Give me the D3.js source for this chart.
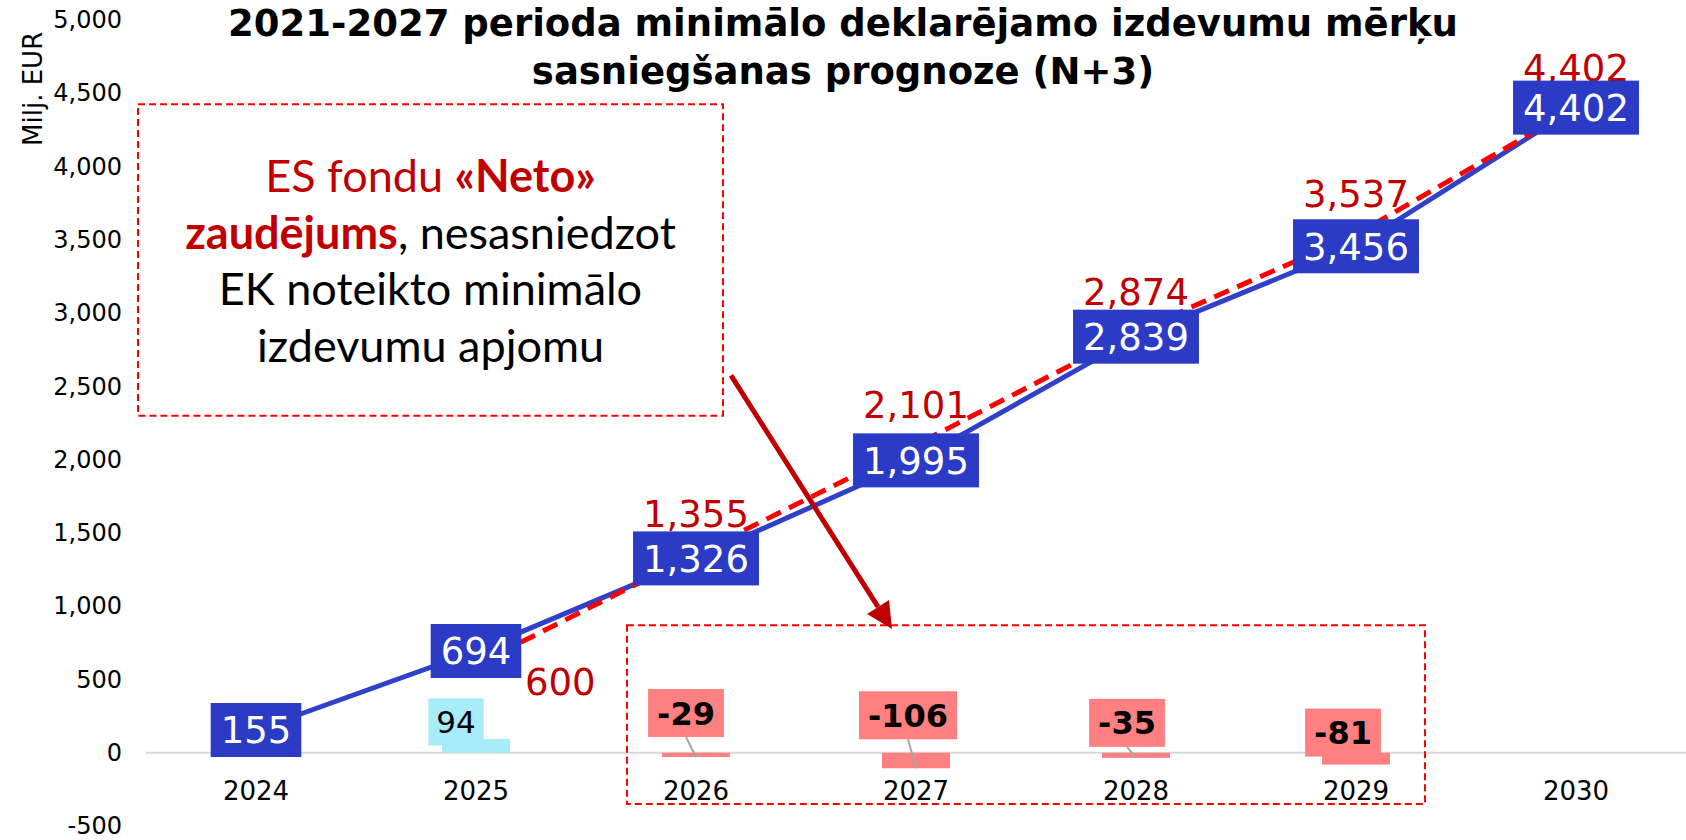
<!DOCTYPE html>
<html>
<head>
<meta charset="utf-8">
<script src="https://cdn.jsdelivr.net/npm/d3@7"></script>
<style>
  body { margin: 0; background: #fff; }
  svg { display: block; }
</style>
</head>
<body>
<div id="chart"></div>
<script>
// values (Milj. EUR)
const years = ['2024', '2025', '2026', '2027', '2028', '2029', '2030'];
const declared = [155, 694, 1326, 1995, 2839, 3456, 4402];      // blue line
const minTarget = [null, 600, 1355, 2101, 2874, 3537, 4402];    // red dashed line
const netDiff = [null, 94, -29, -106, -35, -81, null];          // bars
const yTicks = [-500, 0, 500, 1000, 1500, 2000, 2500, 3000, 3500, 4000, 4500, 5000];
const titleLines = ['2021-2027 perioda minimālo deklarējamo izdevumu mērķu', 'sasniegšanas prognoze (N+3)'];
const yTitle = 'Milj. EUR';

// manual label nudges (px) for the bar labels, like the dragged labels in the original
const barLabelNudge = [null, [-20, -17], [-10, -44], [-8, -53], [-9, -35], [-13, -32], null];

const width = 1686, height = 840;
const margin = { left: 146, right: 0, top: 20, bottom: 14 };
const blue = '#2B3BC6', blueLine = '#3040C8', red = '#FF0000', darkRed = '#C00000';
const font = "'DejaVu Sans', Verdana, sans-serif";

const svg = d3.select('#chart').append('svg')
    .attr('width', width)
    .attr('height', height)
    .style('background', '#fff');

const x = d3.scaleBand()
    .domain(years)
    .range([margin.left, width - margin.right])
    .padding(0);
const cx = d => x(d) + x.bandwidth() / 2;

const y = d3.scaleLinear()
    .domain([-500, 5000])
    .range([height - margin.bottom, margin.top]);

const fmt = v => d3.format(',')(v).replace('\u2212', '-');

// y axis (labels only)
const yAxis = svg.append('g')
    .attr('transform', `translate(${margin.left},0)`)
    .call(d3.axisLeft(y).tickValues(yTicks).tickSize(0).tickPadding(24).tickFormat(fmt));
yAxis.select('.domain').remove();
yAxis.selectAll('text')
    .style('font-family', font)
    .style('font-size', '24px')
    .attr('fill', '#000');

svg.append('text')
    .attr('transform', `translate(42,${y(4530)}) rotate(-90)`)
    .attr('text-anchor', 'middle')
    .style('font-family', font)
    .style('font-size', '26px')
    .text(yTitle);

// zero line
svg.append('line')
    .attr('x1', margin.left).attr('x2', width - margin.right)
    .attr('y1', y(0)).attr('y2', y(0))
    .attr('stroke', '#D9D9D9')
    .attr('stroke-width', 2);

// x axis labels
const xAxis = svg.append('g')
    .attr('transform', `translate(0,${y(0)})`)
    .call(d3.axisBottom(x).tickSize(0).tickPadding(29));
xAxis.select('.domain').remove();
xAxis.selectAll('text')
    .style('font-family', font)
    .style('font-size', '26px')
    .attr('fill', '#000');

// bars
const barW = 68;
const barData = years.map((yr, i) => ({ yr, v: netDiff[i], nudge: barLabelNudge[i] }))
    .filter(d => d.v !== null);

svg.append('g').selectAll('rect')
    .data(barData)
    .join('rect')
    .attr('x', d => cx(d.yr) - barW / 2)
    .attr('width', barW)
    .attr('y', d => y(Math.max(0, d.v)))
    .attr('height', d => Math.abs(y(d.v) - y(0)))
    .attr('fill', d => d.v >= 0 ? '#A8ECF9' : '#FF8080');

// lines
const line = d3.line()
    .defined(d => d.v !== null)
    .x(d => cx(d.yr))
    .y(d => y(d.v));

const blueData = years.map((yr, i) => ({ yr, v: declared[i] }));
const redData = years.map((yr, i) => ({ yr, v: minTarget[i] }));

svg.append('path')
    .datum(blueData)
    .attr('fill', 'none')
    .attr('stroke', blueLine)
    .attr('stroke-width', 5)
    .attr('d', line);

svg.append('path')
    .datum(redData)
    .attr('fill', 'none')
    .attr('stroke', red)
    .attr('stroke-width', 5)
    .attr('stroke-dasharray', '16,9')
    .attr('d', line);

// red labels (above, the first one to the right)
svg.append('g').selectAll('text')
    .data(redData.filter(d => d.v !== null))
    .join('text')
    .attr('x', (d, i) => i === 0 ? cx(d.yr) + 49 : cx(d.yr))
    .attr('y', (d, i) => i === 0 ? y(d.v) + 30 : y(d.v) - 27)
    .attr('text-anchor', (d, i) => i === 0 ? 'start' : 'middle')
    .attr('fill', darkRed)
    .style('font-family', font)
    .style('font-size', '37px')
    .text(d => fmt(d.v));

// blue labels (boxes centred on the points)
const blueLabels = svg.append('g').selectAll('g')
    .data(blueData)
    .join('g')
    .attr('transform', d => `translate(${cx(d.yr)},${y(d.v)})`);

blueLabels.append('text')
    .attr('text-anchor', 'middle')
    .attr('dy', '0.36em')
    .attr('fill', '#fff')
    .style('font-family', font)
    .style('font-size', '37px')
    .text(d => fmt(d.v))
    .each(function () {
        const w = this.getComputedTextLength() + 20;
        d3.select(this.parentNode).insert('rect', 'text')
            .attr('x', -w / 2).attr('y', -27)
            .attr('width', w).attr('height', 54)
            .attr('fill', blue);
    });

// bar labels with leader lines
const barLabels = svg.append('g').selectAll('g')
    .data(barData)
    .join('g')
    .attr('transform', d => `translate(${cx(d.yr) + d.nudge[0]},${y(d.v) + d.nudge[1]})`);

barLabels.each(function (d) {
    const g = d3.select(this);
    const txt = g.append('text')
        .attr('text-anchor', 'middle')
        .attr('dy', '0.36em')
        .attr('fill', '#000')
        .style('font-family', font)
        .style('font-size', d.v < 0 ? '32px' : '31px')
        .style('font-weight', d.v < 0 ? 'bold' : 'normal')
        .text(fmt(d.v));
    const w = txt.node().getComputedTextLength() + (d.v < 0 ? 18 : 16);
    const h = d.v < 0 ? 48 : 47;
    g.insert('rect', 'text')
        .attr('x', -w / 2).attr('y', -h / 2)
        .attr('width', w).attr('height', h)
        .attr('fill', d.v < 0 ? '#FF8080' : '#A8ECF9');
    // leader to the bar end only if the box sits clear of the bar
    const boxBottom = y(d.v) + d.nudge[1] + h / 2;
    if (boxBottom < Math.min(y(0), y(d.v)) - 3) {
        svg.append('line')
            .attr('x1', cx(d.yr) + d.nudge[0]).attr('y1', boxBottom)
            .attr('x2', cx(d.yr)).attr('y2', y(d.v))
            .attr('stroke', '#A6A6A6')
            .attr('stroke-width', 2);
    }
});

// title
svg.append('g').selectAll('text')
    .data(titleLines)
    .join('text')
    .attr('x', width / 2)
    .attr('y', (d, i) => 36 + i * 48)
    .attr('text-anchor', 'middle')
    .style('font-family', font)
    .style('font-size', '37px')
    .style('font-weight', 'bold')
    .text(d => d);

// annotation: dashed boxes, text and arrow
const noteBox = { x0: x('2024') - 8, x1: x('2026') + 137, y0: y(4425), y1: y(2300) };
const lossBox = { x0: x('2026') + 41, x1: x('2029') + x.bandwidth() - 41, y0: y(870), y1: y(-350) };

[noteBox, lossBox].forEach(b => {
    svg.append('rect')
        .attr('x', b.x0).attr('y', b.y0)
        .attr('width', b.x1 - b.x0).attr('height', b.y1 - b.y0)
        .attr('fill', 'none')
        .attr('stroke', red)
        .attr('stroke-width', 2)
        .attr('stroke-dasharray', '7,4');
});

const noteLines = [
    [{ t: 'ES fondu ', c: darkRed }, { t: '«Neto»', c: darkRed, b: true }],
    [{ t: 'zaudējums', c: darkRed, b: true }, { t: ', nesasniedzot', c: '#000' }],
    [{ t: 'EK noteikto minimālo', c: '#000' }],
    [{ t: 'izdevumu apjomu', c: '#000' }]
];
const noteCx = (noteBox.x0 + noteBox.x1) / 2;
noteLines.forEach((parts, i) => {
    const t = svg.append('text')
        .attr('x', noteCx)
        .attr('y', 192 + i * 56.7)
        .attr('text-anchor', 'middle')
        .style('font-family', "Lato, 'Open Sans', sans-serif")
        .style('font-size', '45px');
    parts.forEach(p => {
        t.append('tspan')
            .attr('fill', p.c)
            .style('font-weight', p.b ? 'bold' : 'normal')
            .text(p.t);
    });
});

// arrow from the note box down to the loss box
const a0 = [x('2026') + 145, y(2575)];
const a1 = [x('2027') + 86, y(845)];
const ang = Math.atan2(a1[1] - a0[1], a1[0] - a0[0]);
const headL = 26, headW = 13;
const base = [a1[0] - headL * Math.cos(ang), a1[1] - headL * Math.sin(ang)];
svg.append('line')
    .attr('x1', a0[0]).attr('y1', a0[1])
    .attr('x2', base[0]).attr('y2', base[1])
    .attr('stroke', darkRed)
    .attr('stroke-width', 5);
svg.append('path')
    .attr('d', d3.line()([
        a1,
        [base[0] + headW * Math.sin(ang), base[1] - headW * Math.cos(ang)],
        [base[0] - headW * Math.sin(ang), base[1] + headW * Math.cos(ang)]
    ]) + 'Z')
    .attr('fill', darkRed);
</script>
</body>
</html>
